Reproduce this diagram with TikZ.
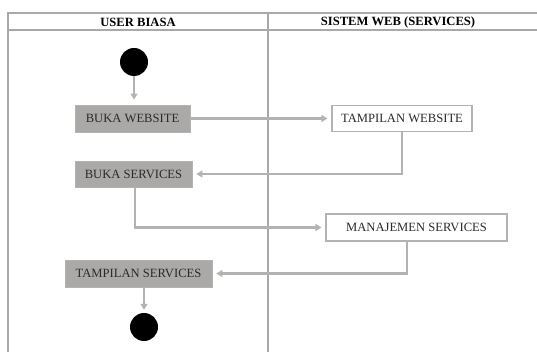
\documentclass[tikz,border=0pt]{standalone}
\usepackage{fontspec}
\setmainfont{Liberation Serif}
\usetikzlibrary{arrows.meta,calc}
\definecolor{lanegray}{HTML}{A9A9A9}
\definecolor{flowgray}{HTML}{B3B3B3}
\definecolor{actfill}{HTML}{ABA8A8}
\definecolor{txtgray}{HTML}{2A2A2A}
\tikzset{
  lane/.style={draw=lanegray, line width=1.3pt},
  useract/.style={draw=flowgray, line width=0.8pt, fill=actfill, rectangle,
    inner sep=0pt, font=\fontsize{12.6}{14}\selectfont, text=txtgray},
  sysact/.style={draw=flowgray, line width=1.2pt, fill=white, rectangle,
    inner sep=0pt, font=\fontsize{12.6}{14}\selectfont, text=txtgray},
  dot/.style={circle, fill=black, inner sep=0pt, minimum size=28pt},
  flow/.style={draw=flowgray, line width=2.5pt,
    -{Triangle[length=6pt,width=7pt]}},
  hdr/.style={font=\bfseries\fontsize{12.6}{14}\selectfont, text=black}
}
\begin{document}
\begin{tikzpicture}[x=1pt,y=-1pt]
\useasboundingbox (0,0) rectangle (537,352);
% swimlane frame
\coordinate (tl) at (8,13);
\coordinate (tr) at (537,13);
\coordinate (hl) at (8,30);
\coordinate (hr) at (537,30);
\coordinate (bl) at (8,352);
\coordinate (dt) at (268,13);
\coordinate (db) at (268,352);
\draw[lane] (tr) -- (tl) -- (bl);
\draw[lane] (hl) -- (hr);
\draw[lane] (dt) -- (db);
\node[hdr] (h1) at (138,22) {USER BIASA};
\node[hdr] (h2) at (398,22) {SISTEM WEB (SERVICES)};
% activities
\node[dot] (start) at (134,62) {};
\node[useract, minimum width=115pt, minimum height=27pt] (bw) at (132.5,118.5) {BUKA WEBSITE};
\node[sysact, minimum width=140pt, minimum height=26pt] (tw) at (402,118.5) {TAMPILAN WEBSITE};
\node[useract, minimum width=117pt, minimum height=26pt] (bs) at (133.5,174) {BUKA SERVICES};
\node[sysact, minimum width=181pt, minimum height=27pt] (ms) at (416.5,227.5) {MANAJEMEN SERVICES};
\node[useract, minimum width=147pt, minimum height=27pt] (ts) at (138.5,273.5) {TAMPILAN SERVICES};
\node[dot] (end) at (144,327) {};
% control flow
\draw[flow, shorten >=5pt] (start) -- (start |- bw.north);
\draw[flow, shorten >=4pt] (bw.east) -- (tw.west);
\draw[flow, shorten >=4pt] (tw.south) |- (bs.east);
\draw[flow, shorten >=4pt] (bs.south -| 135,0) |- (ms.west);
\draw[flow, shorten >=4pt] ($(ms.south)+(-9.5,0)$) |- (ts.east);
\draw[flow, shorten >=3pt] (ts.south -| end.north) -- (end);
\end{tikzpicture}
\end{document}
